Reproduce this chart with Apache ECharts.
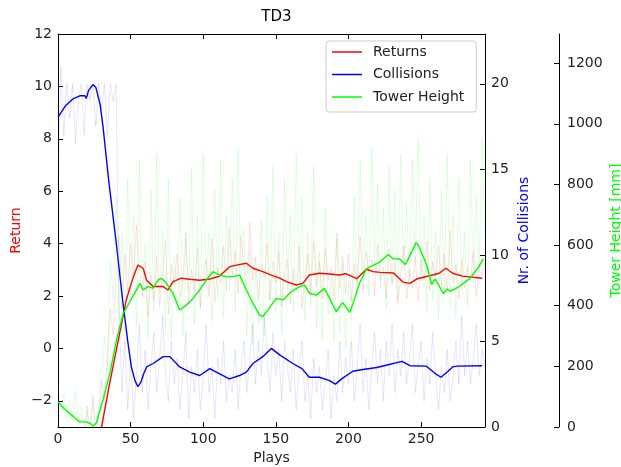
<!DOCTYPE html>
<html>
<head>
    <meta charset="utf-8">
    <title>TD3</title>
    <style>
        body { margin: 0; background: #fff; }
    </style>
</head>
<body>

<div id="main" style="width: 621px;height:467px;"></div>

<script src="https://cdn.jsdelivr.net/npm/echarts@6.0.0/dist/echarts.min.js"></script>
<script>

// smoothed curves (x = play, y = value)
var returnsX = [28, 30, 35, 40, 44, 47, 50, 52, 55, 58.6, 61, 65.5, 72.4, 75.8, 79.2, 85, 90.7, 97.6, 104.5, 111.3, 118.2, 122.8, 129.7, 134.2, 141, 146.9, 152.6, 157.2, 164, 168.6, 173, 180, 187, 193.8, 198, 205.7, 212.4, 217, 222, 231, 237.5, 242.2, 247.5, 258, 262.5, 267, 271.7, 278.6, 292];
var returnsY = [-3.6, -3.0, -1.5, -0.1, 1.0, 1.85, 2.4, 2.74, 3.18, 3.06, 2.6, 2.36, 2.36, 2.23, 2.55, 2.68, 2.64, 2.6, 2.65, 2.76, 3.12, 3.18, 3.25, 3.06, 2.93, 2.8, 2.68, 2.55, 2.42, 2.48, 2.8, 2.87, 2.84, 2.8, 2.85, 2.66, 3.02, 2.93, 2.9, 2.88, 2.53, 2.48, 2.66, 2.8, 2.87, 3.06, 2.87, 2.76, 2.68];

var collisionsX = [0, 5, 10, 15, 18.5, 19.5, 21, 24, 26, 29, 31, 35, 40, 44.5, 48, 50.5, 53, 55, 57, 59, 61, 65.5, 72.4, 77, 83.8, 90.7, 97.6, 104.5, 111.3, 118, 125, 129.7, 134.2, 141, 146.9, 152.6, 161.7, 168, 173, 180, 187, 191, 196, 203, 210, 219.5, 226, 236.8, 242.4, 253.4, 260, 263.7, 268, 271.7, 275, 292];
var collisionsY = [18.06, 18.7, 19.1, 19.3, 19.3, 19.15, 19.6, 19.95, 19.8, 18.8, 17.5, 14.3, 10.8, 7.4, 5.0, 3.5, 2.7, 2.35, 2.6, 3.1, 3.5, 3.7, 4.1, 4.1, 3.5, 3.2, 3.0, 3.4, 3.1, 2.8, 3.0, 3.2, 3.7, 4.1, 4.58, 4.2, 3.7, 3.4, 2.9, 2.9, 2.7, 2.5, 2.85, 3.25, 3.35, 3.47, 3.6, 3.82, 3.57, 3.55, 3.1, 2.9, 3.2, 3.5, 3.55, 3.57];

var towerX = [0, 4, 8, 12, 15, 19.5, 22, 24, 26.6, 28, 31, 35.7, 40.3, 44.9, 49.5, 54, 56.4, 58.6, 62, 65.5, 69, 71.3, 74.7, 79.2, 83.8, 88.4, 93, 97.6, 102.2, 106.7, 111.3, 116, 120.5, 125, 129.7, 134.2, 138.8, 141, 144.5, 150.3, 154.9, 160.6, 166.3, 169.8, 173.2, 177.8, 183.5, 187, 191.6, 196, 201, 204, 207.6, 212.4, 217, 221.5, 227.3, 230.8, 235.3, 239.3, 243.8, 246.5, 248, 250, 253.8, 257.3, 259.6, 261.9, 265.3, 268, 270, 272.2, 276.8, 283.6, 289.3, 292.8];
var towerY = [83, 62, 45, 28, 17, 17, 12, 3, 14, 40, 89, 177, 287, 375, 413, 452, 474, 452, 463, 458, 485, 490, 474, 441, 386, 402, 424, 452, 485, 512, 501, 496, 496, 501, 452, 408, 369, 364, 386, 424, 419, 446, 463, 468, 441, 435, 457, 424, 380, 410, 378, 420, 474, 522, 533, 544, 568, 555, 554, 536, 580, 608, 600, 578, 535, 470, 488, 470, 440, 455, 448, 452, 465, 490, 525, 555];

// raw values, one every 2 plays starting at play 0
var rawStep = 2;
var returnsRaw = [
    -6, -6, -6, -6, -6, -6, -6, -6, -6,
    -4, -2.2, -3.5, -1.8, -3.2, -2.5, -1.2, -2, -0.5, 1.5, 0.5,
    2.8, 4.3, 1.5, 3.6, 2.2, 4.0, 2.8, 4.7, 3.0, 2.0, 3.3, 1.2, 2.8, 1.8, 3.5, 1.6, 2.9, 4.1, 1.3, 3.2,
    2.4, 3.6, 1.9, 2.7, 4.4, 1.7, 3.0, 2.2, 3.8, 1.5, 2.9, 3.4, 2.0, 4.2, 1.8, 3.1, 2.5, 3.9, 2.2, 4.6,
    2.8, 3.7, 2.1, 4.3, 3.0, 2.4, 4.8, 2.6, 3.5, 1.9, 3.2, 2.7, 4.0, 1.8, 3.3, 2.5, 3.7, 1.6, 2.9, 3.4,
    1.7, 3.0, 2.2, 3.9, 1.5, 2.6, 3.6, 2.0, 4.1, 2.4, 3.3, 1.9, 3.8, 2.6, 3.1, 2.0, 4.4, 2.3, 3.5, 2.1,
    3.6, 1.8, 3.2, 2.5, 4.3, 2.2, 3.7, 2.9, 3.4, 2.0, 4.0, 2.6, 3.1, 1.9, 3.8, 2.4, 3.3, 1.7, 2.8, 3.9,
    1.9, 3.0, 2.3, 3.5, 1.8, 3.4, 2.6, 4.1, 2.2, 3.3, 2.7, 3.9, 2.4, 3.6, 2.1, 4.5, 2.5, 3.2, 1.9, 3.4,
    2.3, 3.1, 2.6, 3.7, 2.0, 3.0, 2.8, 3.3
];
var collisionsRaw = [
    14, 21, 17, 20, 18, 20, 16.5, 19, 20, 17, 20, 19, 20, 17.5, 20, 18.5, 20, 17, 20, 19, 20,
    7, 2, 5, 1, 4, 0.5, 3, 6, 2, 4.5, 1, 3.5, 5.5, 2, 4, 6.5, 3, 1.5, 5, 2.5,
    4, 1, 3, 5.5, 0.5, 3.5, 2, 4.5, 1, 3, 6, 2, 3.5, 0.5, 4, 2.5, 5, 1.5, 3, 2,
    4.5, 1, 3.5, 5, 2, 4, 6, 2.5, 5, 3, 6.5, 4, 2, 5.5, 3, 4.5, 1.5, 5, 3.5, 2,
    4.5, 1, 3.5, 5, 1.5, 3, 0.5, 4, 2, 3.5, 1, 2.5, 4.5, 0.5, 3, 1.5, 5, 2, 4, 2.5,
    5, 1.5, 3.5, 6, 2, 4, 1, 3.5, 5.5, 2.5, 4.5, 1.5, 5, 3, 6, 2, 4.5, 3, 5.5, 2.5,
    4, 6, 2, 3.5, 5, 1.5, 4, 2.5, 5.5, 3, 1, 3.5, 2, 4.5, 1.5, 3, 5, 2.5, 6.5, 3,
    5, 2.5, 4, 6, 3, 4.5, 3.5
];
var towerRaw = [
    140, 60, 110, 30, 90, 20, 120, 10, 70, 0, 50, 15, 80, 5, 60, 150,
    300, 180, 550, 420, 760, 350, 640, 300, 820, 420, 700, 330, 880, 460, 600, 290, 780, 380, 900, 440,
    650, 320, 820, 290, 560, 380, 760, 300, 620, 450, 850, 340, 700, 400, 900, 480, 640, 350, 780, 420,
    880, 360, 700, 450, 820, 380, 920, 470, 650, 300, 580, 270, 520, 340, 680, 300, 760, 420, 860, 380,
    640, 310, 820, 450, 700, 380, 900, 470, 760, 350, 640, 400, 860, 330, 580, 290, 720, 370, 500, 280,
    620, 310, 540, 260, 480, 350, 760, 420, 880, 500, 700, 430, 920, 520, 800, 460, 720, 390, 860, 480,
    780, 420, 900, 520, 740, 460, 880, 560, 950, 480, 700, 380, 820, 420, 640, 360, 780, 440, 900, 400,
    700, 360, 820, 450, 640, 400, 880, 480, 760, 520, 950, 600
];

var xTicks = [0, 50, 100, 150, 200, 250];
var returnTicks = [-2, 0, 2, 4, 6, 8, 10, 12];
var collisionTicks = [0, 5, 10, 15, 20];
var towerTicks = [0, 200, 400, 600, 800, 1000, 1200];

function pairs(xs, ys) {
    var out = [];
    for (var i = 0; i < xs.length; i++) out.push([xs[i], ys[i]]);
    return out;
}
function rawPairs(vals) {
    var out = [];
    for (var i = 0; i < vals.length; i++) out.push([i * rawStep, vals[i]]);
    return out;
}
// matplotlib style numbers: real minus sign, no thousands separator
function tickFmt(v) {
    return v < 0 ? '\u2212' + Math.abs(v) : String(v);
}

var myChart = echarts.init(document.getElementById("main"));

var font = 'DejaVu Sans';
var lblColor = '#222';

function yAxisBase(ticks, min, max) {
    return {
        type: 'value',
        min: min,
        max: max,
        nameLocation: 'middle',
        nameRotate: 90,
        nameMoveOverlap: false,
        nameTextStyle: { fontFamily: font, fontSize: 14 },
        axisLine: { show: true, onZero: false, lineStyle: { color: '#000', width: 1 } },
        axisTick: { show: true, inside: true, length: 5, customValues: ticks, lineStyle: { color: '#000' } },
        axisLabel: { customValues: ticks, formatter: tickFmt, fontFamily: font, fontSize: 14, color: lblColor, margin: 6 },
        splitLine: { show: false }
    };
}

var yReturn = yAxisBase(returnTicks, -3, 12);
yReturn.position = 'left';
yReturn.name = 'Return';
yReturn.nameGap = 35;
yReturn.nameTextStyle.color = '#ff0000';

var yColl = yAxisBase(collisionTicks, 0, 22.9);
yColl.position = 'right';
yColl.name = 'Nr. of Collisions';
yColl.nameGap = 32;
yColl.nameTextStyle.color = '#0000ff';

var yTower = yAxisBase(towerTicks, 0, 1296);
yTower.position = 'right';
yTower.offset = 74;
yTower.name = 'Tower Height [mm]';
yTower.nameGap = 50;
yTower.nameTextStyle.color = '#00ff00';
yTower.axisLabel.margin = 8;

var option = {
    animation: false,
    backgroundColor: '#fff',
    title: {
        text: 'TD3',
        left: 271.5,
        top: 5,
        textAlign: 'center',
        textStyle: { fontFamily: font, fontSize: 15, fontWeight: 'normal', color: '#000' }
    },
    legend: {
        orient: 'vertical',
        left: 326,
        top: 41,
        padding: [3, 12, 7, 6],
        itemGap: 6.5,
        itemWidth: 30,
        itemHeight: 1.5,
        icon: 'rect',
        borderColor: '#ccc',
        borderWidth: 1,
        borderRadius: 3,
        backgroundColor: 'rgba(255,255,255,0.85)',
        textStyle: { fontFamily: font, fontSize: 14, color: lblColor, lineHeight: 16, padding: [0, 0, 0, 6] },
        data: ['Returns', 'Collisions', 'Tower Height']
    },
    grid: { left: 58, right: 136, top: 34, bottom: 40, outerBoundsMode: 'none' },
    xAxis: [
        {
            type: 'value',
            min: 0,
            max: 294,
            name: 'Plays',
            nameLocation: 'middle',
            nameGap: 24,
            nameMoveOverlap: false,
            nameTextStyle: { fontFamily: font, fontSize: 14, color: lblColor },
            axisLine: { show: true, onZero: false, lineStyle: { color: '#000' } },
            axisTick: { inside: true, length: 5, customValues: xTicks, lineStyle: { color: '#000' } },
            axisLabel: { customValues: xTicks, formatter: tickFmt, fontFamily: font, fontSize: 14, color: lblColor, margin: 5 },
            splitLine: { show: false }
        },
        {
            type: 'value',
            position: 'top',
            min: 0,
            max: 294,
            axisLine: { show: true, onZero: false, lineStyle: { color: '#000' } },
            axisTick: { inside: true, length: 5, customValues: xTicks, lineStyle: { color: '#000' } },
            axisLabel: { show: false },
            splitLine: { show: false }
        }
    ],
    yAxis: [yReturn, yColl, yTower],
    series: [
        {
            name: 'returnsRaw', type: 'line', yAxisIndex: 0, symbol: 'none', silent: true,
            data: rawPairs(returnsRaw),
            lineStyle: { color: 'rgba(255,0,0,0.12)', width: 1 }
        },
        {
            name: 'Returns', type: 'line', yAxisIndex: 0, symbol: 'none',
            data: pairs(returnsX, returnsY),
            itemStyle: { color: '#ff0000' },
            lineStyle: { color: '#ff0000', width: 1.4 }
        },
        {
            name: 'collisionsRaw', type: 'line', yAxisIndex: 1, symbol: 'none', silent: true,
            data: rawPairs(collisionsRaw),
            lineStyle: { color: 'rgba(0,0,255,0.1)', width: 1 }
        },
        {
            name: 'Collisions', type: 'line', yAxisIndex: 1, symbol: 'none',
            data: pairs(collisionsX, collisionsY),
            itemStyle: { color: '#0000ff' },
            lineStyle: { color: '#0000ff', width: 1.4 }
        },
        {
            name: 'towerRaw', type: 'line', yAxisIndex: 2, symbol: 'none', silent: true,
            data: rawPairs(towerRaw),
            lineStyle: { color: 'rgba(0,255,0,0.12)', width: 1 }
        },
        {
            name: 'Tower Height', type: 'line', yAxisIndex: 2, symbol: 'none',
            data: pairs(towerX, towerY),
            itemStyle: { color: '#00ff00' },
            lineStyle: { color: '#00ff00', width: 1.4 }
        }
    ]
};

myChart.setOption(option);
window.addEventListener("resize", function () {
    myChart.resize();
});

</script>
</body>
</html>
